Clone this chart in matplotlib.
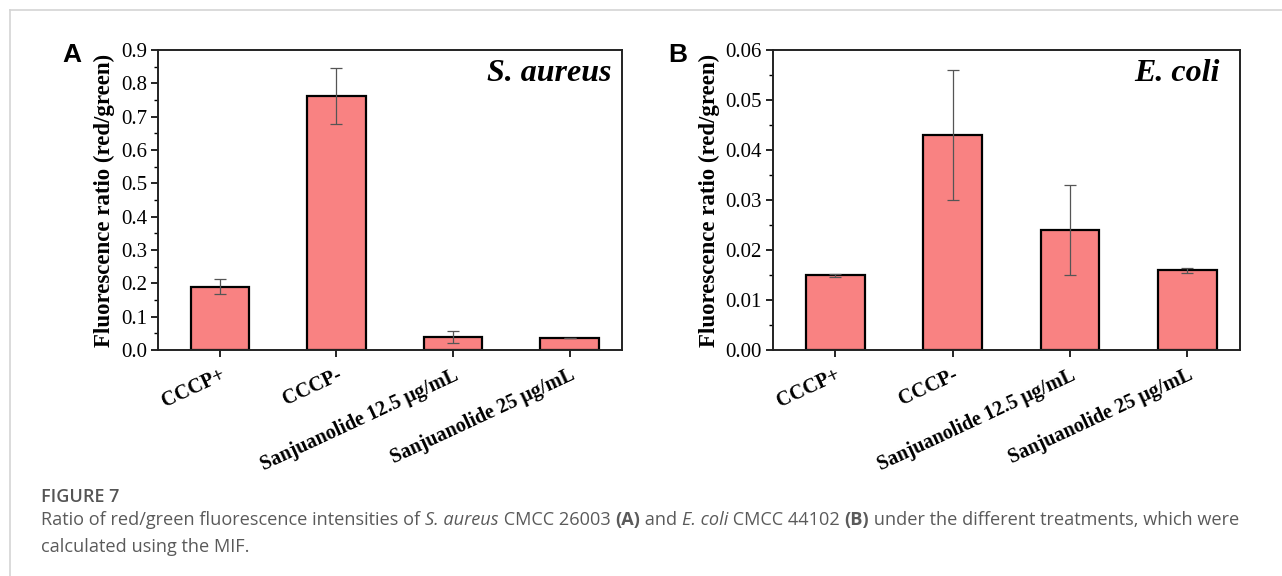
import matplotlib
matplotlib.use("Agg")
import matplotlib.pyplot as plt
from matplotlib.lines import Line2D
from matplotlib.ticker import MultipleLocator

# data
groups = ["CCCP+", "CCCP-", "Sanjuanolide 12.5 μg/mL", "Sanjuanolide 25 μg/mL"]
aureus_mean = [0.19, 0.762, 0.040, 0.036]
aureus_err = [0.023, 0.083, 0.018, 0.0]
coli_mean = [0.015, 0.043, 0.024, 0.016]
coli_err = [0.0003, 0.013, 0.009, 0.0005]

W, H = 1282, 576
fig = plt.figure(figsize=(W / 100, H / 100), dpi=100)

bar_color = "#f98282"
serif = ["Liberation Serif", "DejaVu Serif"]


def panel(rect, means, errs, ymax, major, fmt, species, sp_x):
    ax = fig.add_axes(rect)
    x = range(len(means))
    ax.bar(x, means, width=0.5, color=bar_color, edgecolor="black", linewidth=1.6, zorder=2)
    ax.errorbar(x, means, yerr=errs, fmt="none", ecolor="#555555", elinewidth=0.9,
                capsize=4, capthick=0.9, zorder=3)
    ax.set_xlim(-0.53, 3.45)
    ax.set_ylim(0, ymax)
    ax.yaxis.set_major_locator(MultipleLocator(major))
    ax.yaxis.set_minor_locator(MultipleLocator(major / 2))
    ax.yaxis.set_major_formatter(plt.FormatStrFormatter(fmt))
    ax.set_xticks(list(x))
    ax.set_xticklabels(groups, rotation=25, ha="right", rotation_mode="anchor",
                       fontfamily=serif, fontweight="bold", fontsize=14.5)
    for lab in ax.get_yticklabels():
        lab.set_fontfamily(serif)
        lab.set_fontsize(15)
    ax.tick_params(axis="both", which="major", direction="out", length=5, width=1.2,
                   colors="black", pad=3)
    ax.tick_params(axis="x", pad=6)
    ax.tick_params(axis="y", which="minor", direction="out", length=3, width=1.0)
    for s in ax.spines.values():
        s.set_linewidth(1.4)
        s.set_color("#222222")
    ax.set_ylabel("Fluorescence ratio (red/green)", fontfamily=serif, fontweight="bold",
                  fontsize=16.5, labelpad=4)
    ax.text(sp_x, 0.922, species, transform=ax.transAxes, ha="right", va="center",
            fontfamily=serif, fontweight="bold", fontstyle="italic", fontsize=23)
    return ax


axA = panel([158 / W, 1 - 350 / H, 464 / W, 300 / H], aureus_mean, aureus_err,
            0.9, 0.1, "%.1f", "S. aureus", 0.978)
axB = panel([773 / W, 1 - 350 / H, 467 / W, 300 / H], coli_mean, coli_err,
            0.06, 0.01, "%.2f", "E. coli", 0.957)

fig.text(62 / W, 1 - 55 / H, "A", ha="left", va="center", fontfamily="Liberation Sans",
         fontweight="bold", fontsize=19)
fig.text(668 / W, 1 - 55 / H, "B", ha="left", va="center", fontfamily="Liberation Sans",
         fontweight="bold", fontsize=19)

# card border (top and left edges)
fig.add_artist(Line2D([9.5 / W, 9.5 / W], [0, 1 - 9.5 / H], transform=fig.transFigure,
                      color="#d4d4d4", lw=1.2))
fig.add_artist(Line2D([9.5 / W, 1], [1 - 9.5 / H, 1 - 9.5 / H], transform=fig.transFigure,
                      color="#d4d4d4", lw=1.2))

# caption
cap_font = "Open Sans"
cap_color = "#5a5a5a"
fig.text(41 / W, 1 - 497 / H, "FIGURE 7", ha="left", va="center", fontfamily=cap_font,
         fontsize=13, fontweight="semibold", color="#555555")

renderer = fig.canvas.get_renderer()


def text_run(x0, y, parts, size):
    x = x0
    for s, style, weight in parts:
        t = fig.text(x / W, 1 - y / H, s, ha="left", va="center", fontfamily=cap_font,
                     fontsize=size, color=cap_color, fontstyle=style, fontweight=weight)
        x += t.get_window_extent(renderer).width


line1 = [("Ratio of red/green fluorescence intensities of ", "normal", "normal"),
         ("S. aureus", "italic", "normal"),
         (" CMCC 26003 ", "normal", "normal"),
         ("(A)", "normal", "bold"),
         (" and ", "normal", "normal"),
         ("E. coli", "italic", "normal"),
         (" CMCC 44102 ", "normal", "normal"),
         ("(B)", "normal", "bold"),
         (" under the different treatments, which were", "normal", "normal")]
text_run(41, 520, line1, 13.05)
text_run(41, 547, [("calculated using the MIF.", "normal", "normal")], 13.05)

fig.savefig("out.png", dpi=100)
